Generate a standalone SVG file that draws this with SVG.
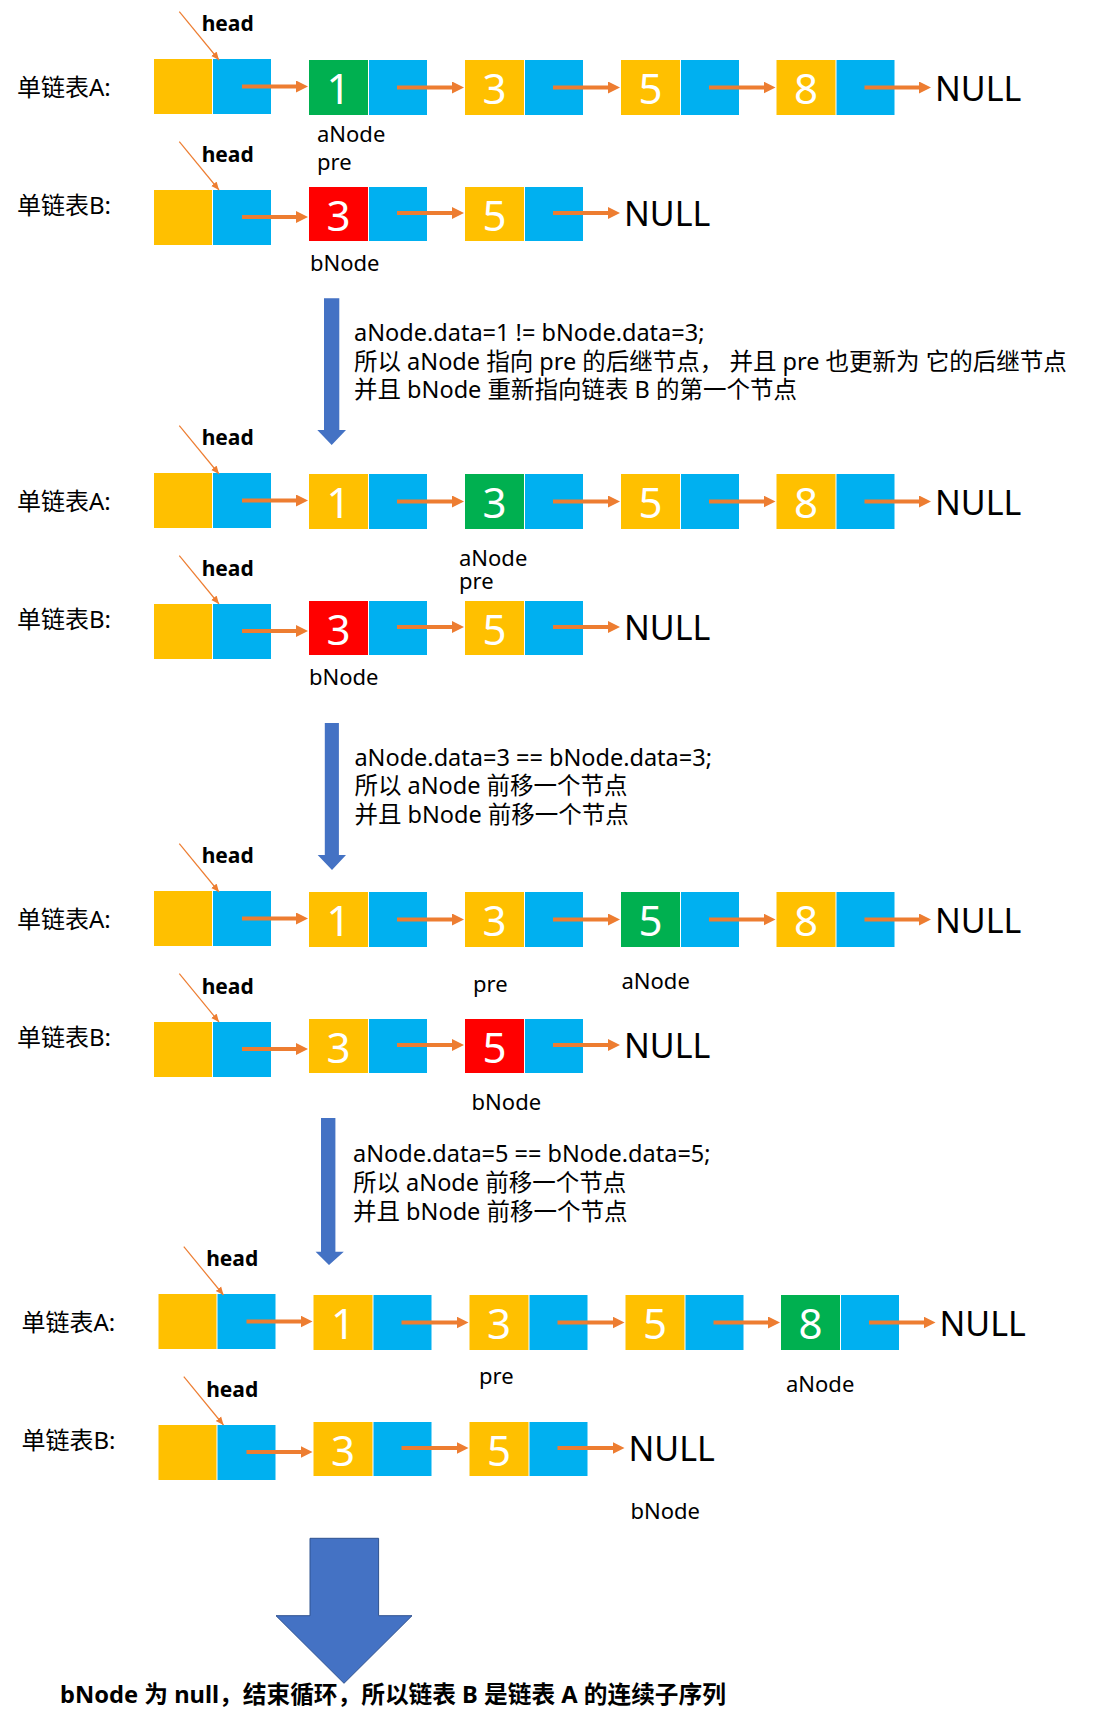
<svg xmlns="http://www.w3.org/2000/svg" width="1107" height="1725" viewBox="0 0 1107 1725">
<style>
.y{fill:#FFC000}.b{fill:#00B0F0}.g{fill:#00B050}.r{fill:#FF0000}
.num{font-family:"Noto Sans","Liberation Sans",sans-serif;font-size:42px;fill:#fff;text-anchor:middle}
.lbl{font-family:"Noto Sans","Noto Sans CJK SC",sans-serif;font-size:24px;fill:#000}
.var{font-family:"Noto Sans","Liberation Sans",sans-serif;font-size:22px;fill:#000}
.hd{font-family:"Noto Sans","Liberation Sans",sans-serif;font-size:21px;font-weight:bold;fill:#000}
.nul{font-family:"Noto Sans","Liberation Sans",sans-serif;font-size:34px;fill:#000}
.note{font-family:"Noto Sans","Noto Sans CJK SC",sans-serif;font-size:23.5px;fill:#000}
.fin{font-family:"Noto Sans","Noto Sans CJK SC",sans-serif;font-size:23.7px;font-weight:bold;fill:#000}
.ar{stroke:#ED7D31;stroke-width:4;fill:none;marker-end:url(#ah)}
.hl{stroke:#ED7D31;stroke-width:1.2;fill:none;marker-end:url(#hs)}
.ba{fill:#4472C4}
</style>
<defs>
<marker id="ah" markerUnits="userSpaceOnUse" markerWidth="12" markerHeight="12" refX="2" refY="6" orient="auto"><path d="M0,0 L12,6 L0,12 z" fill="#ED7D31"/></marker>
<marker id="hs" markerUnits="userSpaceOnUse" markerWidth="9" markerHeight="8" refX="8" refY="4" orient="auto"><path d="M0,0.5 L8,4 L0,7.5 z" fill="#ED7D31"/></marker>
</defs>

<!-- Stage 1 -->
<g id="stage1">
<text class="lbl" x="17" y="95.5">单链表A:</text>
<text class="lbl" x="17" y="213.5">单链表B:</text>
<text class="hd" x="201.7" y="31">head</text>
<text class="hd" x="201.7" y="161.7">head</text>
<g id="s1-a-head"><rect class="y" x="154" y="59" width="58" height="55"/><rect class="b" x="213" y="59" width="58" height="55"/></g>
<g id="s1-a-n1"><rect class="g" x="309" y="60" width="59" height="55"/><rect class="b" x="369" y="60" width="58" height="55"/><text class="num" x="338.5" y="104">1</text></g>
<g id="s1-a-n3"><rect class="y" x="465" y="60" width="59" height="55"/><rect class="b" x="525" y="60" width="58" height="55"/><text class="num" x="494.5" y="104">3</text></g>
<g id="s1-a-n5"><rect class="y" x="621" y="60" width="59" height="55"/><rect class="b" x="681" y="60" width="58" height="55"/><text class="num" x="650.5" y="104">5</text></g>
<g id="s1-a-n8"><rect class="y" x="776.5" y="60" width="59" height="55"/><rect class="b" x="836.5" y="60" width="58" height="55"/><text class="num" x="806" y="104">8</text></g>
<g id="s1-a-null"><text class="nul" x="935" y="100.7">NULL</text></g>
<g id="s1-b-head"><rect class="y" x="154" y="190" width="58" height="55"/><rect class="b" x="213" y="190" width="58" height="55"/></g>
<g id="s1-b-n3"><rect class="r" x="309" y="187" width="59" height="54"/><rect class="b" x="369" y="187" width="58" height="54"/><text class="num" x="338.5" y="230.5">3</text></g>
<g id="s1-b-n5"><rect class="y" x="465" y="187" width="59" height="54"/><rect class="b" x="525" y="187" width="58" height="54"/><text class="num" x="494.5" y="230.5">5</text></g>
<g id="s1-b-null"><text class="nul" x="624" y="226">NULL</text></g>
<text class="var" x="317" y="141.7">aNode</text>
<text class="var" x="317" y="169.7">pre</text>
<text class="var" x="310" y="270.6">bNode</text>
</g>

<!-- Stage 2 -->
<g id="stage2" transform="translate(0,414)">
<text class="lbl" x="17" y="95.5">单链表A:</text>
<text class="lbl" x="17" y="213.5">单链表B:</text>
<text class="hd" x="201.7" y="31">head</text>
<text class="hd" x="201.7" y="161.7">head</text>
<g id="s2-a-head"><rect class="y" x="154" y="59" width="58" height="55"/><rect class="b" x="213" y="59" width="58" height="55"/></g>
<g id="s2-a-n1"><rect class="y" x="309" y="60" width="59" height="55"/><rect class="b" x="369" y="60" width="58" height="55"/><text class="num" x="338.5" y="104">1</text></g>
<g id="s2-a-n3"><rect class="g" x="465" y="60" width="59" height="55"/><rect class="b" x="525" y="60" width="58" height="55"/><text class="num" x="494.5" y="104">3</text></g>
<g id="s2-a-n5"><rect class="y" x="621" y="60" width="59" height="55"/><rect class="b" x="681" y="60" width="58" height="55"/><text class="num" x="650.5" y="104">5</text></g>
<g id="s2-a-n8"><rect class="y" x="776.5" y="60" width="59" height="55"/><rect class="b" x="836.5" y="60" width="58" height="55"/><text class="num" x="806" y="104">8</text></g>
<g id="s2-a-null"><text class="nul" x="935" y="100.7">NULL</text></g>
<g id="s2-b-head"><rect class="y" x="154" y="190" width="58" height="55"/><rect class="b" x="213" y="190" width="58" height="55"/></g>
<g id="s2-b-n3"><rect class="r" x="309" y="187" width="59" height="54"/><rect class="b" x="369" y="187" width="58" height="54"/><text class="num" x="338.5" y="230.5">3</text></g>
<g id="s2-b-n5"><rect class="y" x="465" y="187" width="59" height="54"/><rect class="b" x="525" y="187" width="58" height="54"/><text class="num" x="494.5" y="230.5">5</text></g>
<g id="s2-b-null"><text class="nul" x="624" y="226">NULL</text></g>
<text class="var" x="459" y="151.5">aNode</text>
<text class="var" x="459" y="175">pre</text>
<text class="var" x="309" y="271">bNode</text>
</g>

<!-- Stage 3 -->
<g id="stage3" transform="translate(0,832)">
<text class="lbl" x="17" y="95.5">单链表A:</text>
<text class="lbl" x="17" y="213.5">单链表B:</text>
<text class="hd" x="201.7" y="31">head</text>
<text class="hd" x="201.7" y="161.7">head</text>
<g id="s3-a-head"><rect class="y" x="154" y="59" width="58" height="55"/><rect class="b" x="213" y="59" width="58" height="55"/></g>
<g id="s3-a-n1"><rect class="y" x="309" y="60" width="59" height="55"/><rect class="b" x="369" y="60" width="58" height="55"/><text class="num" x="338.5" y="104">1</text></g>
<g id="s3-a-n3"><rect class="y" x="465" y="60" width="59" height="55"/><rect class="b" x="525" y="60" width="58" height="55"/><text class="num" x="494.5" y="104">3</text></g>
<g id="s3-a-n5"><rect class="g" x="621" y="60" width="59" height="55"/><rect class="b" x="681" y="60" width="58" height="55"/><text class="num" x="650.5" y="104">5</text></g>
<g id="s3-a-n8"><rect class="y" x="776.5" y="60" width="59" height="55"/><rect class="b" x="836.5" y="60" width="58" height="55"/><text class="num" x="806" y="104">8</text></g>
<g id="s3-a-null"><text class="nul" x="935" y="100.7">NULL</text></g>
<g id="s3-b-head"><rect class="y" x="154" y="190" width="58" height="55"/><rect class="b" x="213" y="190" width="58" height="55"/></g>
<g id="s3-b-n3"><rect class="y" x="309" y="187" width="59" height="54"/><rect class="b" x="369" y="187" width="58" height="54"/><text class="num" x="338.5" y="230.5">3</text></g>
<g id="s3-b-n5"><rect class="r" x="465" y="187" width="59" height="54"/><rect class="b" x="525" y="187" width="58" height="54"/><text class="num" x="494.5" y="230.5">5</text></g>
<g id="s3-b-null"><text class="nul" x="624" y="226">NULL</text></g>
<text class="var" x="473" y="159.5">pre</text>
<text class="var" x="621.5" y="157">aNode</text>
<text class="var" x="471.6" y="277.5">bNode</text>
</g>

<!-- Stage 4 -->
<g id="stage4" transform="translate(4.5,1235)">
<text class="lbl" x="17" y="95.5">单链表A:</text>
<text class="lbl" x="17" y="213.5">单链表B:</text>
<text class="hd" x="201.7" y="31">head</text>
<text class="hd" x="201.7" y="161.7">head</text>
<g id="s4-a-head"><rect class="y" x="154" y="59" width="58" height="55"/><rect class="b" x="213" y="59" width="58" height="55"/></g>
<g id="s4-a-n1"><rect class="y" x="309" y="60" width="59" height="55"/><rect class="b" x="369" y="60" width="58" height="55"/><text class="num" x="338.5" y="104">1</text></g>
<g id="s4-a-n3"><rect class="y" x="465" y="60" width="59" height="55"/><rect class="b" x="525" y="60" width="58" height="55"/><text class="num" x="494.5" y="104">3</text></g>
<g id="s4-a-n5"><rect class="y" x="621" y="60" width="59" height="55"/><rect class="b" x="681" y="60" width="58" height="55"/><text class="num" x="650.5" y="104">5</text></g>
<g id="s4-a-n8"><rect class="g" x="776.5" y="60" width="59" height="55"/><rect class="b" x="836.5" y="60" width="58" height="55"/><text class="num" x="806" y="104">8</text></g>
<g id="s4-a-null"><text class="nul" x="935" y="100.7">NULL</text></g>
<g id="s4-b-head"><rect class="y" x="154" y="190" width="58" height="55"/><rect class="b" x="213" y="190" width="58" height="55"/></g>
<g id="s4-b-n3"><rect class="y" x="309" y="187" width="59" height="54"/><rect class="b" x="369" y="187" width="58" height="54"/><text class="num" x="338.5" y="230.5">3</text></g>
<g id="s4-b-n5"><rect class="y" x="465" y="187" width="59" height="54"/><rect class="b" x="525" y="187" width="58" height="54"/><text class="num" x="494.5" y="230.5">5</text></g>
<g id="s4-b-null"><text class="nul" x="624" y="226">NULL</text></g>
<text class="var" x="474.5" y="149">pre</text>
<text class="var" x="781.5" y="157">aNode</text>
<text class="var" x="626" y="284">bNode</text>
</g>

<!-- Notes -->
<g id="note1">
<text class="note" x="354" y="340.7">aNode.data=1 != bNode.data=3;</text>
<text class="note" x="354" y="369.5">所以 aNode 指向 pre 的后继节点， 并且 pre 也更新为 它的后继节点</text>
<text class="note" x="354" y="398.3">并且 bNode 重新指向链表 B 的第一个节点</text>
</g>
<g id="note2">
<text class="note" x="354.4" y="765.6">aNode.data=3 == bNode.data=3;</text>
<text class="note" x="354.4" y="794.4">所以 aNode 前移一个节点</text>
<text class="note" x="354.4" y="823.2">并且 bNode 前移一个节点</text>
</g>
<g id="note3">
<text class="note" x="353" y="1162.3">aNode.data=5 == bNode.data=5;</text>
<text class="note" x="353" y="1191.2">所以 aNode 前移一个节点</text>
<text class="note" x="353" y="1219.6">并且 bNode 前移一个节点</text>
</g>
<g id="final">
<text class="fin" x="60" y="1703">bNode 为 null，结束循环，所以链表 B 是链表 A 的连续子序列</text>
</g>

<!-- Connectors -->
<g id="connectors">
<g transform="translate(0,0)">
<line class="hl" x1="179.3" y1="11.7" x2="219" y2="60"/>
<line class="hl" x1="179.3" y1="141.7" x2="219" y2="190"/>
<line class="ar" x1="242" y1="86.5" x2="298" y2="86.5"/>
<line class="ar" x1="397" y1="87.5" x2="454" y2="87.5"/>
<line class="ar" x1="553" y1="87.5" x2="610" y2="87.5"/>
<line class="ar" x1="709" y1="87.5" x2="765.5" y2="87.5"/>
<line class="ar" x1="864.5" y1="87.5" x2="921" y2="87.5"/>
<line class="ar" x1="242" y1="217" x2="298" y2="217"/>
<line class="ar" x1="397" y1="213" x2="454" y2="213"/>
<line class="ar" x1="553" y1="213" x2="610" y2="213"/>
</g>
<g transform="translate(0,414)">
<line class="hl" x1="179.3" y1="11.7" x2="219" y2="60"/>
<line class="hl" x1="179.3" y1="141.7" x2="219" y2="190"/>
<line class="ar" x1="242" y1="86.5" x2="298" y2="86.5"/>
<line class="ar" x1="397" y1="87.5" x2="454" y2="87.5"/>
<line class="ar" x1="553" y1="87.5" x2="610" y2="87.5"/>
<line class="ar" x1="709" y1="87.5" x2="765.5" y2="87.5"/>
<line class="ar" x1="864.5" y1="87.5" x2="921" y2="87.5"/>
<line class="ar" x1="242" y1="217" x2="298" y2="217"/>
<line class="ar" x1="397" y1="213" x2="454" y2="213"/>
<line class="ar" x1="553" y1="213" x2="610" y2="213"/>
</g>
<g transform="translate(0,832)">
<line class="hl" x1="179.3" y1="11.7" x2="219" y2="60"/>
<line class="hl" x1="179.3" y1="141.7" x2="219" y2="190"/>
<line class="ar" x1="242" y1="86.5" x2="298" y2="86.5"/>
<line class="ar" x1="397" y1="87.5" x2="454" y2="87.5"/>
<line class="ar" x1="553" y1="87.5" x2="610" y2="87.5"/>
<line class="ar" x1="709" y1="87.5" x2="765.5" y2="87.5"/>
<line class="ar" x1="864.5" y1="87.5" x2="921" y2="87.5"/>
<line class="ar" x1="242" y1="217" x2="298" y2="217"/>
<line class="ar" x1="397" y1="213" x2="454" y2="213"/>
<line class="ar" x1="553" y1="213" x2="610" y2="213"/>
</g>
<g transform="translate(4.5,1235)">
<line class="hl" x1="179.3" y1="11.7" x2="219" y2="60"/>
<line class="hl" x1="179.3" y1="141.7" x2="219" y2="190"/>
<line class="ar" x1="242" y1="86.5" x2="298" y2="86.5"/>
<line class="ar" x1="397" y1="87.5" x2="454" y2="87.5"/>
<line class="ar" x1="553" y1="87.5" x2="610" y2="87.5"/>
<line class="ar" x1="709" y1="87.5" x2="765.5" y2="87.5"/>
<line class="ar" x1="864.5" y1="87.5" x2="921" y2="87.5"/>
<line class="ar" x1="242" y1="217" x2="298" y2="217"/>
<line class="ar" x1="397" y1="213" x2="454" y2="213"/>
<line class="ar" x1="553" y1="213" x2="610" y2="213"/>
</g>
<polygon class="ba" points="324,298.3 339.3,298.3 339.3,430 346,430 331.7,445 317.3,430 324,430"/>
<polygon class="ba" points="324.8,723 338.9,723 338.9,855 346,855 332,870 317.7,855 324.8,855"/>
<polygon class="ba" points="321,1118 335.4,1118 335.4,1251.7 343.8,1251.7 329,1265 315.6,1251.7 321,1251.7"/>
<polygon class="ba" stroke="#2F528F" stroke-width="1" points="310,1538.3 378.6,1538.3 378.6,1615.7 412,1615.7 344,1683.3 276,1615.7 310,1615.7"/>
</g>
</svg>
